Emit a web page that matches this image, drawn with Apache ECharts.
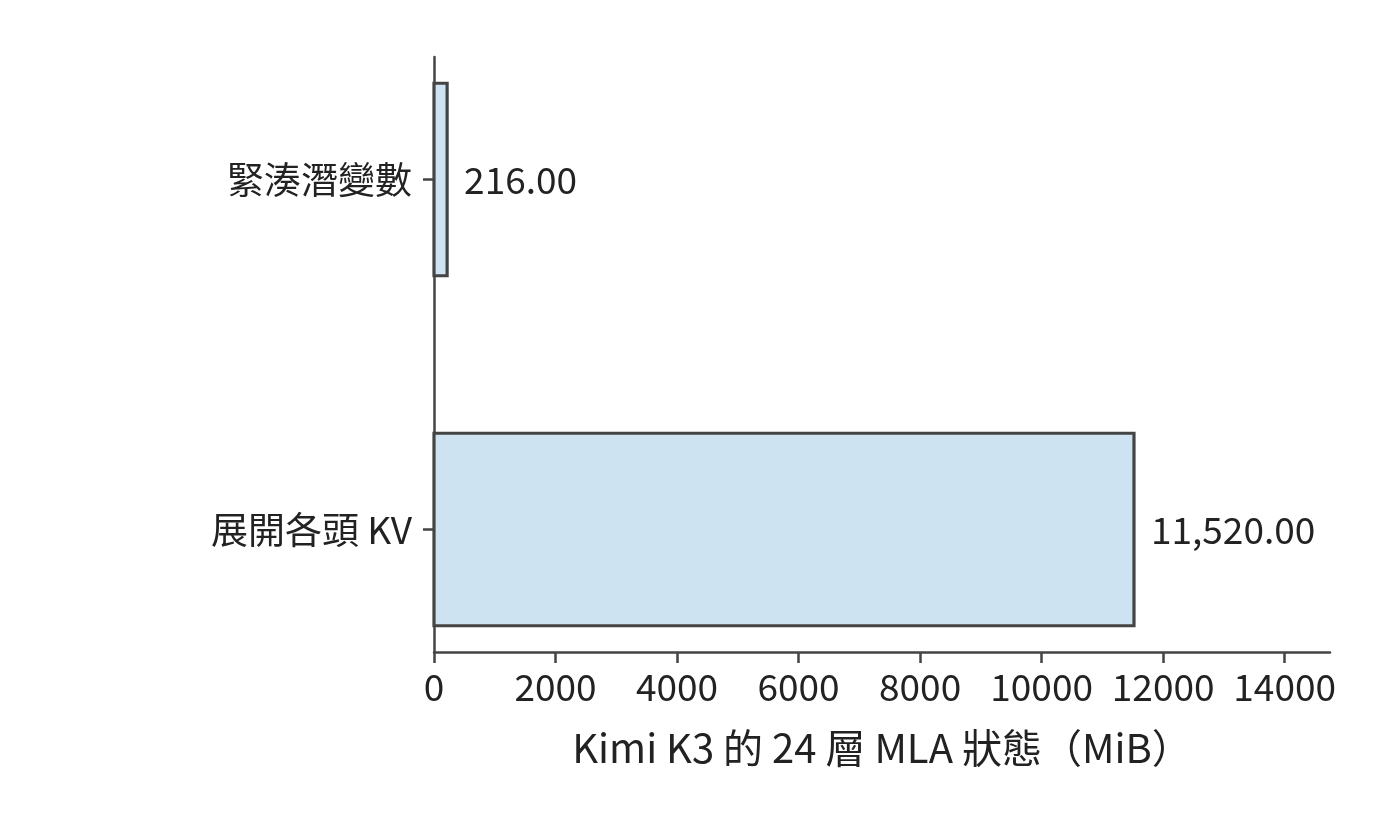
<!DOCTYPE html>
<html>
<head>
<meta charset="utf-8">
<script src="https://cdn.jsdelivr.net/npm/echarts@6/dist/echarts.min.js"></script>
<style>
  html, body { margin: 0; padding: 0; background: #fff; }
  #container { width: 1400px; height: 816px; }
</style>
</head>
<body>
<div id="container"></div>
<script>
var categories = ['緊湊潛變數', '展開各頭 KV'];
var values = [216, 11520];
var xTicks = [0, 2000, 4000, 6000, 8000, 10000, 12000, 14000];
var xName = 'Kimi K3 的 24 層 MLA 狀態（MiB）';

var FONT = '"Noto Sans CJK TC", "Noto Sans", sans-serif';
var dom = document.getElementById('container');
var myChart = echarts.init(dom, null, { renderer: 'canvas' });

var barData = values.map(function (v, i) { return [v, i]; });

var option = {
  animation: false,
  grid: { left: 434, right: 70, top: 57, bottom: 164 },
  xAxis: {
    type: 'value',
    min: 0,
    max: 14746,
    name: xName,
    nameLocation: 'middle',
    nameGap: 76,
    nameTextStyle: { fontFamily: FONT, fontSize: 40, color: '#222' },
    axisLine: { show: true, onZero: false, lineStyle: { color: '#444', width: 2.5 } },
    axisTick: { show: true, length: 11, customValues: xTicks, lineStyle: { color: '#444', width: 2.5 } },
    axisLabel: {
      customValues: xTicks,
      formatter: function (v) { return String(v); },
      fontFamily: FONT, fontSize: 37, color: '#222', margin: 16
    },
    splitLine: { show: false }
  },
  yAxis: {
    type: 'value',
    min: -0.35,
    max: 1.35,
    inverse: true,
    axisLine: { show: true, onZero: false, lineStyle: { color: '#444', width: 2.5 } },
    axisTick: { show: true, length: 11, customValues: [0, 1], lineStyle: { color: '#444', width: 2.5 } },
    axisLabel: {
      customValues: [0, 1],
      formatter: function (v) { return categories[Math.round(v)]; },
      fontFamily: FONT, fontSize: 37, color: '#222', margin: 22
    },
    splitLine: { show: false }
  },
  series: [{
    type: 'custom',
    data: barData,
    renderItem: function (params, api) {
      var v = api.value(0), i = api.value(1);
      var p0 = api.coord([0, i - 0.275]);
      var p1 = api.coord([v, i + 0.275]);
      var mid = api.coord([v, i]);
      return {
        type: 'group',
        children: [{
          type: 'rect',
          shape: { x: p0[0], y: p0[1], width: p1[0] - p0[0], height: p1[1] - p0[1] },
          style: { fill: '#cde3f2', stroke: '#444', lineWidth: 3.2 }
        }, {
          type: 'text',
          x: mid[0] + 17,
          y: mid[1],
          style: {
            text: v.toLocaleString('en-US', { minimumFractionDigits: 2, maximumFractionDigits: 2 }),
            fontFamily: FONT, fontSize: 37, fill: '#222',
            verticalAlign: 'middle', align: 'left'
          }
        }]
      };
    }
  }]
};

myChart.setOption(option);
window.addEventListener('resize', myChart.resize);
</script>
</body>
</html>
